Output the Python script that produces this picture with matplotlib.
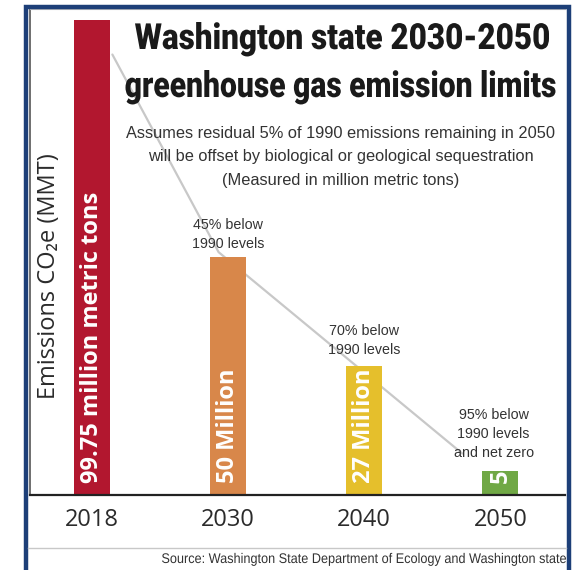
import matplotlib
matplotlib.use("Agg")
import matplotlib.pyplot as plt
from matplotlib.patches import Rectangle, PathPatch
from matplotlib.lines import Line2D
from matplotlib.textpath import TextPath
from matplotlib.font_manager import FontProperties
from matplotlib.transforms import Affine2D

# data
years = ["2018", "2030", "2040", "2050"]
emissions = [99.75, 50, 27, 5]
bar_labels = ["99.75 million metric tons", "50 Million", "27 Million", "5"]
bar_colors = ["#b2172f", "#d8874a", "#e5bf2c", "#70a845"]
notes = ["", "45% below\n1990 levels", "70% below\n1990 levels",
         "95% below\n1990 levels\nand net zero"]
# decorative decline line (category position, value)
trend_x = [0.15, 0.93, 2.72]
trend_y = [92.5, 51.0, 8.7]

fig = plt.figure(figsize=(5.85, 5.70), dpi=100)
fig.patch.set_facecolor("white")
W, H = 585, 570


def squeezed(text, x, base, width, size, ha="center", weight="normal",
             family="Liberation Sans", color="#1a1a1a"):
    # text drawn as a path, squeezed horizontally to a given pixel width
    tp = TextPath((0, 0), text, size=size, prop=FontProperties(family=family, weight=weight))
    bb = tp.get_extents()
    sx = width / bb.width
    if ha == "center":
        x0 = x - width / 2 - bb.x0 * sx
    elif ha == "right":
        x0 = x - width - bb.x0 * sx
    else:
        x0 = x - bb.x0 * sx
    tr = Affine2D().scale(sx, 1).translate(x0, H - base).scale(1 / W, 1 / H) + fig.transFigure
    fig.add_artist(PathPatch(tp, transform=tr, facecolor=color, lw=0))


ax = fig.add_axes([30 / W, 1 - 495 / H, 535 / W, 486 / H])
xs = list(range(len(years)))

ax.plot(trend_x, trend_y, color="#c8c8c8", lw=1.6, zorder=1, solid_capstyle="round")
ax.bar(xs, emissions, width=0.265, color=bar_colors, zorder=2)

for x, v, lab in zip(xs, emissions, bar_labels):
    ax.text(x, 2.6, lab, rotation=90, ha="center", va="bottom", color="white",
            fontsize=17, fontweight="bold", family="Open Sans", zorder=3)

note_pos = [None, (1.0, 51.2), (2.0, 29.0), (2.95, 7.4)]
for n, p in zip(notes, note_pos):
    if not n:
        continue
    ax.text(p[0], p[1], n, ha="center", va="bottom", fontsize=10.3,
            family="Liberation Sans", color="#333333", linespacing=1.45)

ax.set_xlim(-0.455, 3.474)
ax.set_ylim(0, 102.06)
ax.set_xticks(xs)
ax.set_xticklabels(years, fontsize=17, family="Open Sans", color="#2b2b2b")
ax.tick_params(axis="x", length=0, pad=9)
ax.set_yticks([])
ax.spines["right"].set_visible(False)
ax.spines["top"].set_color("#bdbdbd")
ax.spines["top"].set_linewidth(0.8)
ax.spines["left"].set_color("#555555")
ax.spines["left"].set_linewidth(1.2)
ax.spines["bottom"].set_color("#222222")
ax.spines["bottom"].set_linewidth(1.6)

fig.text(49 / W, 1 - 276 / H, "Emissions CO\u2082e (MMT)", rotation=90,
         ha="center", va="center", fontsize=17,
         family=["Open Sans", "DejaVu Sans"], color="#2b2b2b")

# titles
squeezed("Washington state 2030-2050", 342, 49, 414, 36, weight="black",
         family="Roboto")
squeezed("greenhouse gas emission limits", 340.5, 97, 430, 36, weight="black",
         family="Roboto")
fig.text(341 / W, 1 - 157 / H,
         "Assumes residual 5% of 1990 emissions remaining in 2050\n"
         "will be offset by biological or geological sequestration\n"
         "(Measured in million metric tons)",
         ha="center", va="center", fontsize=11.8, family="Liberation Sans",
         color="#333333", linespacing=1.72)

# source
fig.add_artist(Line2D([28 / W, 566 / W], [1 - 547.5 / H, 1 - 547.5 / H],
                      color="#c8c8c8", lw=1.0))
squeezed("Source: Washington State Department of Ecology and Washington state",
         566, 563, 404, 14, ha="right", color="#333333")

# navy frame
fig.add_artist(Rectangle((26 / W, -0.05), 543 / W, 1.05 - 7 / H,
                         transform=fig.transFigure, fill=False,
                         edgecolor="#1d3f78", lw=3.2))

fig.savefig("out.png", dpi=100)
